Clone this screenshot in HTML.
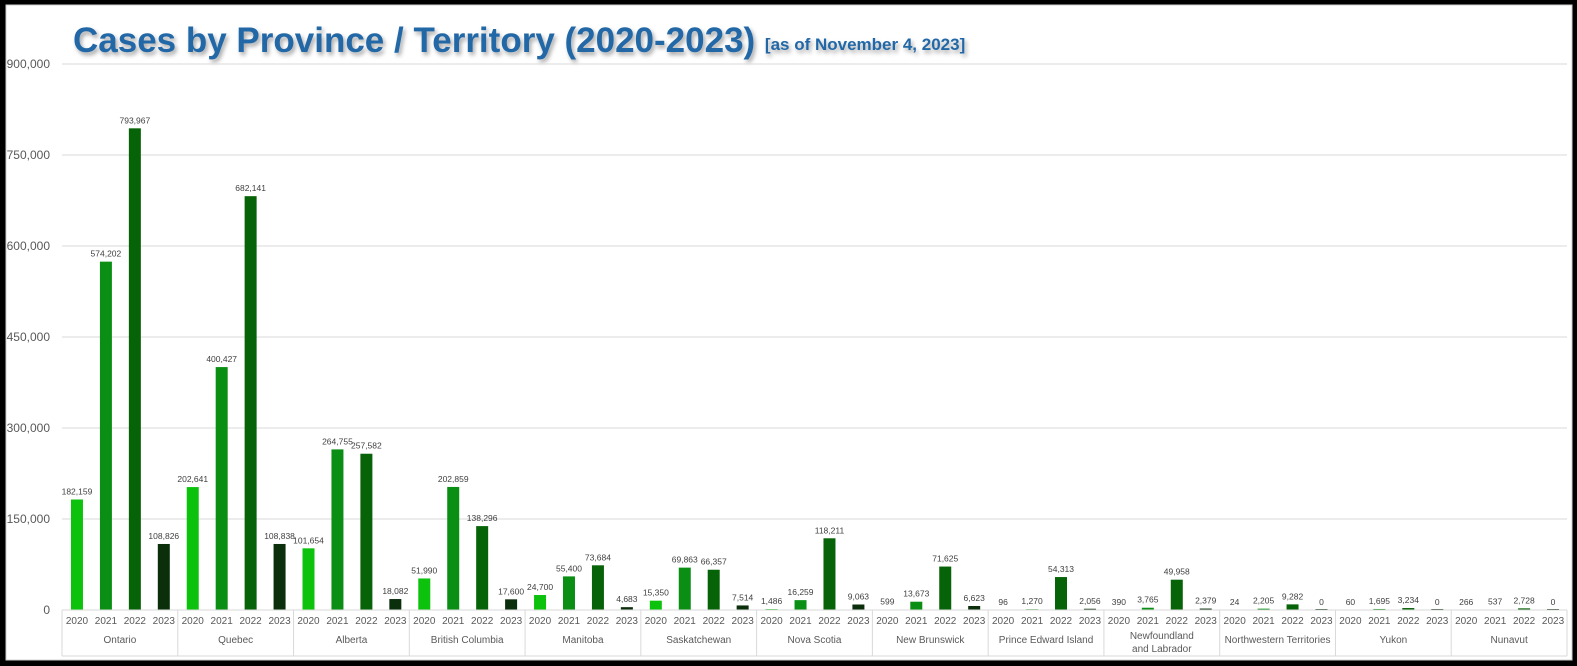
<!DOCTYPE html>
<html><head><meta charset="utf-8"><style>
html,body{margin:0;padding:0;background:#000;}
svg{display:block;font-family:"Liberation Sans",sans-serif;}
</style></head><body>
<svg width="1577" height="666" viewBox="0 0 1577 666">
<rect x="0" y="0" width="1577" height="666" fill="#000"/>
<rect x="6" y="5" width="1566" height="655" fill="#fff" stroke="#d0d0d0" stroke-width="1"/>
<defs><filter id="sh" x="-5%" y="-20%" width="110%" height="150%"><feDropShadow dx="2" dy="3" stdDeviation="2" flood-color="#000" flood-opacity="0.35"/></filter></defs>
<text x="73" y="52" font-size="35" font-weight="bold" fill="#2467a6" filter="url(#sh)">Cases by Province / Territory (2020-2023) <tspan font-size="17" dy="-2">[as of November 4, 2023]</tspan></text>
<g id="grid" stroke="#d9d9d9" stroke-width="1"></g>
<g id="ylab" font-size="12" fill="#595959" text-anchor="end"></g>
<g id="bars"></g>
<g id="axis" stroke="#d9d9d9" stroke-width="1" fill="none"></g>
<g id="xlab" font-size="10" fill="#595959" text-anchor="middle"></g>
</svg>
<script>
const NS="http://www.w3.org/2000/svg";
function el(p,t,a,txt){const e=document.createElementNS(NS,t);for(const k in a)e.setAttribute(k,a[k]);if(txt!==undefined)e.textContent=txt;document.getElementById(p).appendChild(e);return e;}
const y0=610,sc=546/900000,x0=62,x1=1567;
for(let v=150000;v<=900000;v+=150000){const y=y0-v*sc;el("grid","line",{x1:x0,x2:x1,y1:y,y2:y});}
for(let v=0;v<=900000;v+=150000){const y=y0-v*sc;el("ylab","text",{x:50,y:y+4},v.toLocaleString("en-US"));}
const groups=[["Ontario",[182159,574202,793967,108826]],["Quebec",[202641,400427,682141,108838]],["Alberta",[101654,264755,257582,18082]],["British Columbia",[51990,202859,138296,17600]],["Manitoba",[24700,55400,73684,4683]],["Saskatchewan",[15350,69863,66357,7514]],["Nova Scotia",[1486,16259,118211,9063]],["New Brunswick",[599,13673,71625,6623]],["Prince Edward Island",[96,1270,54313,2056]],["Newfoundland|and Labrador",[390,3765,49958,2379]],["Northwestern Territories",[24,2205,9282,0]],["Yukon",[60,1695,3234,0]],["Nunavut",[266,537,2728,0]]];
const cols=["#0dc20d","#0a8f14","#076307","#0b2e0b"];
const gw=(x1-x0)/13,cw=gw/4;
el("axis","line",{x1:x0,x2:x1,y1:y0,y2:y0});
el("axis","line",{x1:x0,x2:x1,y1:656,y2:656});
groups.forEach((g,i)=>{
 const gx=x0+i*gw;
 el("axis","line",{x1:gx,x2:gx,y1:y0,y2:656});
 g[1].forEach((v,j)=>{
  const cx=gx+cw*(j+0.5)+0.5,h=v*sc,y=y0-h;
  if(h>0)el("bars","rect",{x:cx-6,y:y,width:12,height:h,fill:cols[j]});
  else el("bars","rect",{x:cx-6,y:y0-1,width:12,height:1,fill:cols[j]});
  el("bars","text",{x:cx,y:y-5,"font-size":"8.5","fill":"#404040","text-anchor":"middle"},v.toLocaleString("en-US"));
  el("xlab","text",{x:cx,y:624},String(2020+j));
 });
 const parts=g[0].split("|");
 if(parts.length==1)el("xlab","text",{x:gx+gw/2,y:643},parts[0]);
 else{el("xlab","text",{x:gx+gw/2,y:639},parts[0]);el("xlab","text",{x:gx+gw/2,y:652},parts[1]);}
});
el("axis","line",{x1:x1,x2:x1,y1:y0,y2:656});
</script>
</body></html>
